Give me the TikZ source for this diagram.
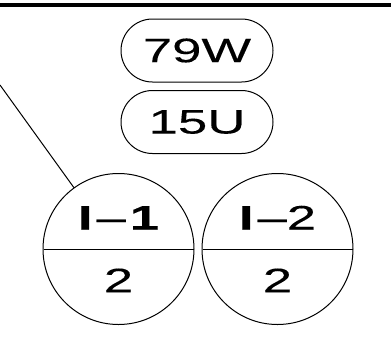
\documentclass[tikz,border=0pt]{standalone}
\usepackage{fontspec}
\setmainfont{Liberation Sans}
\newfontfamily\tagfont[FakeStretch=1.55,FakeBold=0.2]{Liberation Sans}
\usetikzlibrary{
  shapes.misc,
  shapes.multipart
}
\newcommand\gap{\hspace{4pt}}
\tikzset{
  thin line/.style={
    line width=1pt,black
  },
  tag/.style={
    draw,thin line,rounded rectangle,
    minimum width=152pt,minimum height=63pt,inner sep=0pt,
    font=\tagfont\fontsize{34}{36}\selectfont
  },
  joint/.style={
    draw,thin line,circle split,
    minimum size=151pt,inner xsep=0pt,inner ysep=19pt,
    font=\tagfont\fontsize{34}{36}\selectfont
  }
}
\begin{document}
\begin{tikzpicture}[x=1pt,y=-1pt]
\useasboundingbox (0,0) rectangle (391,338);
\draw [line width=3.5pt] (0,5) -- (391,5);
\node [tag] (tagW) at (197,50.5) {79W};
\node [tag] (tagU) at (197,122) {15U};
\node [joint] (jA) at (118.5,249) {\textbf{I}\gap–\gap\textbf{1} \nodepart{lower} 2};
\node [joint] (jB) at (277.5,249) {\textbf{I}\gap–2 \nodepart{lower} 2};
\coordinate (lead) at (0,85);
\draw [thin line] (lead) -- (jA.126);
\end{tikzpicture}
\end{document}
